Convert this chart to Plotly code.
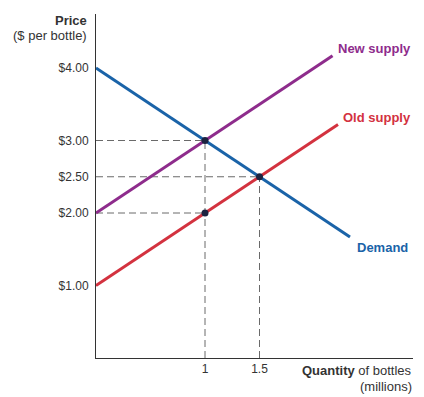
import plotly.graph_objects as go

# Data
demand_q = [0, 2.33]
demand_p = [4.0, 1.67]
new_supply_q = [0, 2.17]
new_supply_p = [2.0, 4.17]
old_supply_q = [0, 2.22]
old_supply_p = [1.0, 3.22]

points_q = [1, 1.5, 1]
points_p = [3.0, 2.5, 2.0]

y_tick_vals = [1.0, 2.0, 2.5, 3.0, 4.0]
y_tick_text = ["$1.00", "$2.00", "$2.50", "$3.00", "$4.00"]
x_tick_vals = [1, 1.5]
x_tick_text = ["1", "1.5"]

# guide lines (horizontal to y axis, vertical to x axis)
h_guides = [(1, 3.0), (1.5, 2.5), (1, 2.0)]
v_guides = [(1, 3.0), (1.5, 2.5)]

BLUE = "#1a63a8"
PURPLE = "#8e2c8c"
RED = "#d3323f"
DOT = "#1c2340"
GRID = "#6a6a6a"
TXT = "#333333"
FONT = "Liberation Sans, Arial, sans-serif"

fig = go.Figure()

for q, p in h_guides:
    fig.add_trace(go.Scatter(x=[0, q], y=[p, p], mode="lines",
                             line=dict(color=GRID, width=1, dash="7px,4px"),
                             hoverinfo="skip", showlegend=False))
for q, p in v_guides:
    fig.add_trace(go.Scatter(x=[q, q], y=[0, p], mode="lines",
                             line=dict(color=GRID, width=1, dash="7px,4px"),
                             hoverinfo="skip", showlegend=False))

fig.add_trace(go.Scatter(x=old_supply_q, y=old_supply_p, mode="lines",
                         line=dict(color=RED, width=3), showlegend=False))
fig.add_trace(go.Scatter(x=new_supply_q, y=new_supply_p, mode="lines",
                         line=dict(color=PURPLE, width=3), showlegend=False))
fig.add_trace(go.Scatter(x=demand_q, y=demand_p, mode="lines",
                         line=dict(color=BLUE, width=3), showlegend=False))
fig.add_trace(go.Scatter(x=points_q, y=points_p, mode="markers",
                         marker=dict(color=DOT, size=7), showlegend=False))

annotations = [
    dict(x=new_supply_q[-1], y=new_supply_p[-1], text="<b>New supply</b>",
         xanchor="left", yanchor="bottom", xshift=3, yshift=-2,
         font=dict(color=PURPLE, size=13)),
    dict(x=old_supply_q[-1], y=old_supply_p[-1], text="<b>Old supply</b>",
         xanchor="left", yanchor="bottom", xshift=3, yshift=-2,
         font=dict(color=RED, size=13)),
    dict(x=demand_q[-1], y=demand_p[-1], text="<b>Demand</b>",
         xanchor="left", yanchor="top", xshift=5, yshift=-1,
         font=dict(color=BLUE, size=13)),
    dict(xref="paper", yref="paper", x=0, y=1, text="<b>Price</b>",
         xanchor="right", yanchor="top", xshift=-7, yshift=3,
         font=dict(color=TXT, size=13)),
    dict(xref="paper", yref="paper", x=0, y=1, text="($ per bottle)",
         xanchor="right", yanchor="top", xshift=-7, yshift=-12,
         font=dict(color=TXT, size=13)),
    dict(xref="paper", yref="paper", x=1, y=0, text="<b>Quantity</b> of bottles",
         xanchor="right", yanchor="top", xshift=1, yshift=-3,
         font=dict(color=TXT, size=13)),
    dict(xref="paper", yref="paper", x=1, y=0, text="(millions)",
         xanchor="right", yanchor="top", xshift=1, yshift=-19,
         font=dict(color=TXT, size=13)),
]
for a in annotations:
    a["showarrow"] = False
fig.update_layout(annotations=annotations)

# page body has an 8px margin, so margins are offset to place the plot area
fig.update_layout(
    width=424, height=397,
    margin=dict(l=88, r=19, t=6, b=47),
    paper_bgcolor="white", plot_bgcolor="white",
    font=dict(family=FONT, size=12, color=TXT),
    xaxis=dict(range=[0, 2.908], showgrid=False, zeroline=False,
               showline=True, linecolor=TXT, linewidth=1,
               tickvals=x_tick_vals, ticktext=x_tick_text,
               ticks="", ticklen=0, fixedrange=True),
    yaxis=dict(range=[0, 4.745], showgrid=False, zeroline=False,
               showline=True, linecolor=TXT, linewidth=1,
               tickvals=y_tick_vals, ticktext=y_tick_text,
               ticks="", ticklabelstandoff=4, fixedrange=True),
)

fig.write_html("out.html", config={"displayModeBar": False})
